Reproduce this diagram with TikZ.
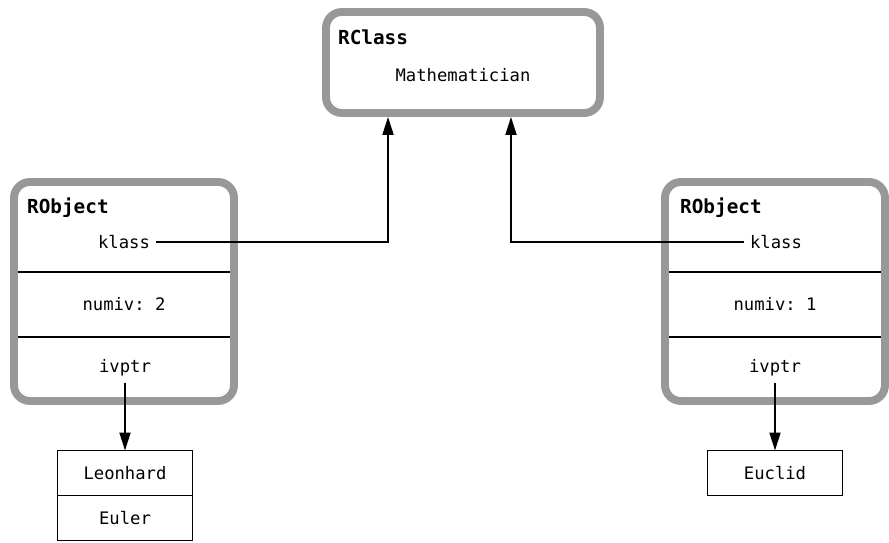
\documentclass[tikz,border=0pt]{standalone}
\usepackage{fontspec}
\setmonofont{DejaVu Sans Mono}
\usetikzlibrary{arrows.meta, positioning}
\definecolor{boxgray}{RGB}{152,152,154}

\begin{document}
\begin{tikzpicture}[
			x=0.02cm, y=-0.02cm,
			node distance=0.8cm,
			frame/.style={
				rectangle,
				draw=boxgray,
				fill=white,
				line width=4.5pt,
				rounded corners=9pt
			},
			title/.style={
				anchor=west,
				font=\ttfamily\bfseries\fontsize{11}{13}\selectfont
			},
			field/.style={
				font=\ttfamily\fontsize{9.8}{12}\selectfont
			},
			cell/.style={
				rectangle,
				draw,
				line width=1.1pt,
				outer sep=0pt,
				minimum width=2.7cm,
				minimum height=0.9cm,
				font=\ttfamily\fontsize{9.8}{12}\selectfont
			},
			divider/.style={
				line width=1.1pt,
				shorten <=4.5pt,
				shorten >=4.5pt
			},
			arrow/.style={
				-{Triangle[length=3.6mm, width=2.2mm]},
				line width=1.1pt
			}
			]
			
			\useasboundingbox (0,0) rectangle (889,543);
			
			% RClass (top)
			\node[frame, minimum width=5.48cm, minimum height=2.02cm] (rclass) at (463,62.5) {};
			\node[title] (rclass_t) at (332,37) {RClass};
			\node[field] (math) at (463,75) {Mathematician};
			
			% RObject (left)
			\node[frame, minimum width=4.4cm, minimum height=4.38cm] (robjL) at (124,291.5) {};
			\node[title] (robjL_t) at (21,208) {RObject};
			\node[field] (klassL) at (124,242) {klass};
			\node[field, minimum height=1.28cm] (numL) at (124,304.5) {numiv: 2};
			\node[field] (ivL) at (125,368) {ivptr};
			\draw[divider] (robjL.west |- numL.north) -- (robjL.east |- numL.north);
			\draw[divider] (robjL.west |- numL.south) -- (robjL.east |- numL.south);
			
			% RObject (right)
			\node[frame, minimum width=4.4cm, minimum height=4.38cm] (robjR) at (775,291.5) {};
			\node[title] (robjR_t) at (674,208) {RObject};
			\node[field] (klassR) at (776,242) {klass};
			\node[field, minimum height=1.28cm] (numR) at (775,304.5) {numiv: 1};
			\node[field] (ivR) at (775,368) {ivptr};
			\draw[divider] (robjR.west |- numR.north) -- (robjR.east |- numR.north);
			\draw[divider] (robjR.west |- numR.south) -- (robjR.east |- numR.south);
			
			% klass pointers
			\coordinate (inL) at ([xshift=-1.5cm]rclass.south);
			\coordinate (inR) at ([xshift=0.96cm]rclass.south);
			\draw[arrow] (klassL.east) -| (inL);
			\draw[arrow] (klassR.west) -| (inR);
			
			% ivars (bottom)
			\node[cell, below=1.36cm of ivL] (leonhard) {Leonhard};
			\node[cell, below=0pt of leonhard] (euler) {Euler};
			\draw[arrow] (ivL.south) -- (leonhard.north);
			
			\node[cell, below=1.36cm of ivR] (euclid) {Euclid};
			\draw[arrow] (ivR.south) -- (euclid.north);
			
		\end{tikzpicture}
\end{document}
